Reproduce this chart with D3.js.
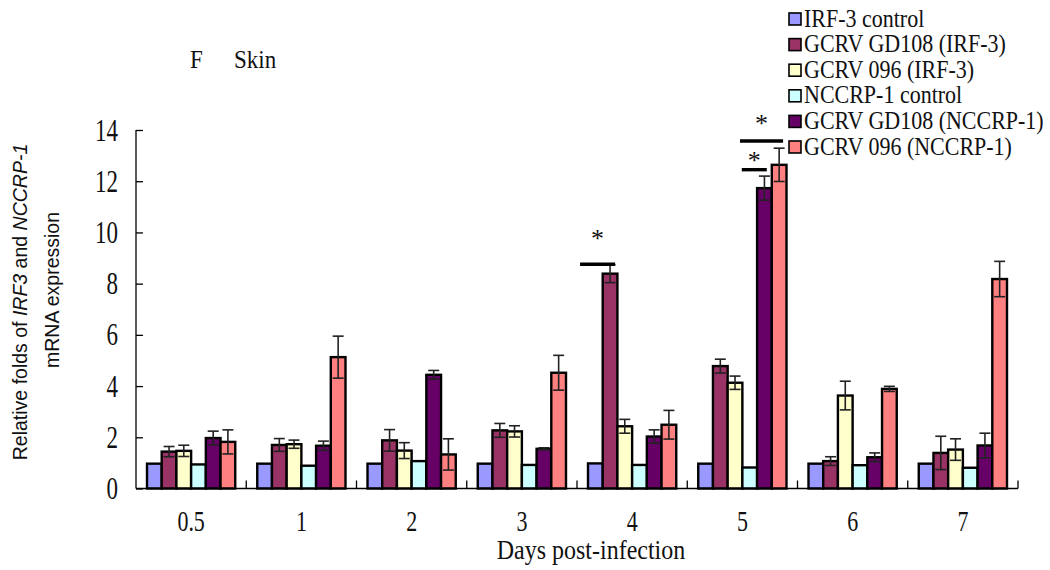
<!DOCTYPE html>
<html><head><meta charset="utf-8">
<script src="https://cdn.jsdelivr.net/npm/d3@7"></script>
<style>body{margin:0;background:#fff}svg{display:block}
.sf{font-family:"Liberation Serif","Times New Roman","DejaVu Serif",serif}
.ss{font-family:"Liberation Sans",Arial,"DejaVu Sans",sans-serif}
</style>
</head><body>
<svg id="c" width="1050" height="570"></svg>
<script>
const days = ["0.5","1","2","3","4","5","6","7"];
const seriesNames = ["IRF-3 control","GCRV GD108 (IRF-3)","GCRV 096 (IRF-3)","NCCRP-1 control","GCRV GD108 (NCCRP-1)","GCRV 096 (NCCRP-1)"];
const seriesColors = ["#9999FF","#993366","#FFFFCC","#CCFFFF","#660066","#FF8080"];
const irf3Control   = [0.97,0.97,0.97,0.97,0.98,0.97,0.97,0.97];
const gd108Irf3     = [1.44,1.70,1.88,2.27,8.39,4.78,1.07,1.39];
const gd108Irf3Err  = [0.20,0.25,0.42,0.27,0.35,0.27,0.17,0.65];
const v096Irf3      = [1.47,1.73,1.48,2.23,2.43,4.13,3.63,1.52];
const v096Irf3Err   = [0.22,0.16,0.31,0.22,0.27,0.26,0.56,0.42];
const nccrpControl  = [0.94,0.89,1.07,0.92,0.92,0.82,0.91,0.81];
const gd108Nccrp    = [1.97,1.67,4.44,1.55,2.03,11.73,1.22,1.68];
const gd108NccrpErr = [0.27,0.18,0.17,0.04,0.26,0.47,0.17,0.48];
const v096Nccrp     = [1.82,5.13,1.33,4.52,2.49,12.64,3.89,8.18];
const v096NccrpErr  = [0.47,0.82,0.61,0.68,0.56,0.65,0.10,0.69];
const yTicks = [0,2,4,6,8,10,12,14];
// significance annotations: group, level of the bar, span in bar units, star level
const sigMarks = [
  {day:"4", value:8.76, from:-0.54, to:1.84, star:9.9},
  {day:"5", value:13.57, from:2.84, to:5.77, star:14.4},
  {day:"5", value:12.45, from:2.96, to:4.66, star:12.95}
];

const values = [irf3Control,gd108Irf3,v096Irf3,nccrpControl,gd108Nccrp,v096Nccrp];
const errors = [null,gd108Irf3Err,v096Irf3Err,null,gd108NccrpErr,v096NccrpErr];

const svg = d3.select("#c");
const pLeft = 136, pRight = 1018, pTop = 130, pBottom = 488.5;
const x0 = d3.scaleBand().domain(days).range([pLeft,pRight]).padding(0);
const x1 = d3.scaleBand().domain(d3.range(6)).range([11, x0.bandwidth()-11]).padding(0);
const y = d3.scaleLinear().domain([0,14]).range([pBottom, pTop]);
const tickStretch = 1.33, textStretch = 1.1;

// bars
const g = svg.append("g");
days.forEach((d,i)=>{
  const gg = g.append("g").attr("transform",`translate(${x0(d)},0)`);
  values.forEach((arr,s)=>{
    gg.append("rect")
      .attr("x", x1(s)).attr("width", x1.bandwidth())
      .attr("y", y(arr[i])).attr("height", y(0)-y(arr[i]))
      .attr("fill", seriesColors[s]).attr("stroke","#000").attr("stroke-width",2.4);
  });
  values.forEach((arr,s)=>{
    if(!errors[s]) return;
    const e = errors[s][i], cx = x1(s)+x1.bandwidth()/2, cw = 5.5;
    const eg = gg.append("g").attr("stroke","#222").attr("stroke-width",1.6);
    eg.append("line").attr("x1",cx).attr("x2",cx).attr("y1",y(arr[i]-e)).attr("y2",y(arr[i]+e));
    eg.append("line").attr("x1",cx-cw).attr("x2",cx+cw).attr("y1",y(arr[i]+e)).attr("y2",y(arr[i]+e));
    eg.append("line").attr("x1",cx-cw).attr("x2",cx+cw).attr("y1",y(arr[i]-e)).attr("y2",y(arr[i]-e));
  });
});

// y axis
const yAxis = d3.axisLeft(y).tickValues(yTicks).tickSize(-7).tickPadding(18).tickFormat(d3.format("d"));
const ya = svg.append("g").attr("transform",`translate(${pLeft},0)`).call(yAxis);
ya.attr("font-family",null).attr("font-size",null);
ya.select(".domain").attr("stroke","#000").attr("stroke-width",1.3).attr("d",`M0,${pTop}V${pBottom}`);
ya.selectAll(".tick line").attr("stroke","#000").attr("stroke-width",1.3);
ya.selectAll("text").attr("class","sf").attr("font-size",23).attr("fill","#111")
  .attr("dy","0.33em").attr("transform",`scale(1,${tickStretch})`);

// x axis
svg.append("line").attr("x1",pLeft).attr("x2",pRight).attr("y1",pBottom).attr("y2",pBottom).attr("stroke","#000").attr("stroke-width",1.3);
const bounds = days.map(d=>x0(d)).concat([pRight]);
svg.selectAll(".xt").data(bounds.slice(1)).enter().append("line")
  .attr("x1",d=>d).attr("x2",d=>d).attr("y1",pBottom).attr("y2",pBottom-8)
  .attr("stroke","#000").attr("stroke-width",1.3);
const xAxis = d3.axisBottom(x0).tickSize(0).tickPadding(0);
const xa = svg.append("g").attr("transform",`translate(0,${pBottom})`).call(xAxis);
xa.attr("font-family",null).attr("font-size",null);
xa.select(".domain").remove();
xa.selectAll("text").attr("class","sf").attr("font-size",22).attr("fill","#111")
  .attr("dy",null).attr("y",43/tickStretch).attr("transform",`scale(1,${tickStretch})`);

// significance
sigMarks.forEach(m=>{
  const bx = x0(m.day) + x1(0);
  const xa1 = bx + m.from*x1.bandwidth();
  const xa2 = bx + m.to*x1.bandwidth();
  svg.append("line").attr("x1",xa1).attr("x2",xa2).attr("y1",y(m.value)).attr("y2",y(m.value))
    .attr("stroke","#000").attr("stroke-width",3.4);
  svg.append("text").attr("class","sf").attr("x",(xa1+xa2)/2).attr("y",y(m.star)+12).attr("text-anchor","middle")
    .attr("font-size",26).attr("fill","#111").text("*");
});

// title
function stretchedText(x, yy, size, txt, anchor){
  return svg.append("text").attr("class","sf")
    .attr("transform",`translate(${x},${yy}) scale(1,${textStretch})`)
    .attr("text-anchor",anchor||"start").attr("font-size",size).attr("fill","#111").text(txt);
}
stretchedText(190, 68, 23, "F");
stretchedText(234, 68, 23, "Skin");

// y label
const yl = svg.append("text").attr("class","ss").attr("transform","translate(27,302) rotate(-90)").attr("text-anchor","middle")
  .attr("font-size",19.5).attr("fill","#111");
yl.append("tspan").text("Relative folds of ");
yl.append("tspan").attr("font-style","italic").text("IRF3");
yl.append("tspan").text(" and ");
yl.append("tspan").attr("font-style","italic").text("NCCRP-1");
svg.append("text").attr("class","ss").attr("transform","translate(59,290) rotate(-90)").attr("text-anchor","middle")
  .attr("font-size",19.5).attr("fill","#111").text("mRNA expression");

// x label
stretchedText(591, 559, 24, "Days post-infection", "middle");

// legend
const lg = svg.append("g").attr("transform","translate(789,0)");
seriesNames.forEach((n,i)=>{
  const yy = 19 + i*25.6;
  lg.append("rect").attr("x",0).attr("y",yy-6).attr("width",12).attr("height",12)
    .attr("fill",seriesColors[i]).attr("stroke","#000").attr("stroke-width",1.6);
  lg.append("text").attr("class","sf").attr("transform",`translate(15,${yy+7.5}) scale(1,${textStretch})`)
    .attr("font-size",22).attr("fill","#111").text(n);
});
</script>
</body></html>
